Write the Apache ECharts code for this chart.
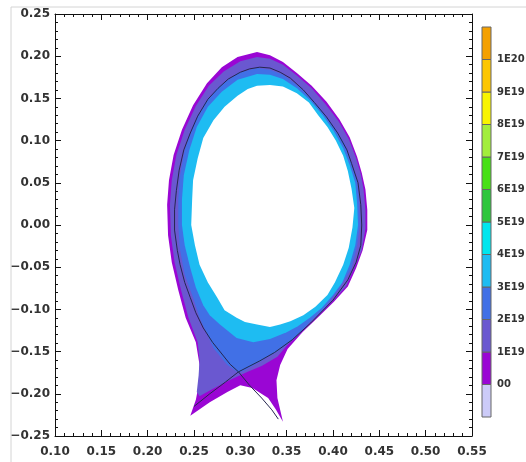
<!DOCTYPE html>
<html>
<head>
<meta charset="utf-8">
<script src="https://cdn.jsdelivr.net/npm/echarts@6/dist/echarts.min.js"></script>
<style>
html, body { margin: 0; padding: 0; background: #fff; }
#main { width: 526px; height: 462px; }
</style>
</head>
<body>
<div id="main"></div>
<script>
// colour bar levels, bottom to top
var levelLabels = ['', '00', '1E19', '2E19', '3E19', '4E19', '5E19', '6E19', '7E19', '8E19', '9E19', '1E20', ''];
var levelColors = ['#cccbf8', '#9a06d4', '#6a58d0', '#4170e6', '#1ebcf2', '#00e6ee', '#2ec63c', '#48e016', '#a2ee3c', '#f8f400', '#fdc600', '#f4a000'];

// outer edge of the density (0 - 1E19)
var purpleEdge = [
    [0.318, 0.205], [0.332, 0.201], [0.346, 0.193], [0.361, 0.180], [0.377, 0.165], [0.393, 0.146],
    [0.407, 0.125], [0.418, 0.104], [0.426, 0.081], [0.431, 0.062], [0.435, 0.042], [0.437, 0.018],
    [0.437, -0.006], [0.432, -0.030], [0.425, -0.051], [0.416, -0.073], [0.401, -0.091], [0.385, -0.108],
    [0.367, -0.127], [0.351, -0.147], [0.343, -0.166], [0.339, -0.184], [0.340, -0.205], [0.346, -0.233],
    [0.338, -0.218], [0.330, -0.205], [0.313, -0.193], [0.300, -0.190], [0.286, -0.198], [0.267, -0.210],
    [0.246, -0.226], [0.252, -0.207], [0.255, -0.190], [0.256, -0.166], [0.252, -0.139], [0.241, -0.110],
    [0.233, -0.077], [0.226, -0.044], [0.222, -0.012], [0.221, 0.024], [0.223, 0.053], [0.228, 0.083],
    [0.237, 0.113], [0.249, 0.142], [0.264, 0.168], [0.280, 0.187], [0.297, 0.199]
];
// 1E19 - 2E19
var slateEdge = [
    [0.318, 0.199], [0.332, 0.197], [0.346, 0.190], [0.361, 0.177], [0.377, 0.162], [0.392, 0.143],
    [0.406, 0.123], [0.417, 0.102], [0.425, 0.079], [0.430, 0.060], [0.433, 0.042], [0.435, 0.018],
    [0.435, -0.004], [0.431, -0.030], [0.423, -0.051], [0.414, -0.073], [0.399, -0.091], [0.382, -0.110],
    [0.364, -0.129], [0.351, -0.142], [0.340, -0.156], [0.323, -0.167], [0.308, -0.174], [0.298, -0.179],
    [0.286, -0.185], [0.267, -0.196], [0.256, -0.203], [0.253, -0.198], [0.255, -0.178], [0.256, -0.160],
    [0.254, -0.139], [0.244, -0.110], [0.236, -0.077], [0.229, -0.044], [0.225, -0.012], [0.224, 0.024],
    [0.226, 0.053], [0.231, 0.083], [0.240, 0.113], [0.252, 0.141], [0.266, 0.165], [0.282, 0.182],
    [0.300, 0.194]
];
// 2E19 - 3E19
var royalEdge = [
    [0.318, 0.186], [0.332, 0.184], [0.346, 0.178], [0.361, 0.166], [0.375, 0.152], [0.389, 0.134],
    [0.402, 0.115], [0.413, 0.095], [0.420, 0.073], [0.426, 0.053], [0.428, 0.030], [0.429, 0.000],
    [0.426, -0.024], [0.420, -0.051], [0.407, -0.075], [0.391, -0.098], [0.375, -0.115], [0.362, -0.130],
    [0.350, -0.142], [0.340, -0.150], [0.321, -0.162], [0.305, -0.172], [0.298, -0.175], [0.286, -0.166],
    [0.271, -0.146], [0.256, -0.110], [0.248, -0.083], [0.240, -0.059], [0.235, -0.030], [0.233, 0.000],
    [0.233, 0.030], [0.235, 0.059], [0.240, 0.089], [0.249, 0.118], [0.262, 0.145], [0.278, 0.165],
    [0.297, 0.180]
];
// 3E19 - 4E19
var skyEdge = [
    [0.318, 0.179], [0.332, 0.178], [0.346, 0.173], [0.361, 0.162], [0.375, 0.148], [0.389, 0.130],
    [0.401, 0.111], [0.411, 0.091], [0.418, 0.071], [0.424, 0.050], [0.426, 0.026], [0.427, 0.000],
    [0.424, -0.024], [0.418, -0.047], [0.410, -0.068], [0.400, -0.083], [0.388, -0.098], [0.375, -0.110],
    [0.362, -0.120], [0.350, -0.127], [0.332, -0.135], [0.314, -0.139], [0.296, -0.134], [0.278, -0.118],
    [0.267, -0.107], [0.260, -0.095], [0.252, -0.074], [0.246, -0.051], [0.240, -0.024], [0.237, 0.000],
    [0.237, 0.030], [0.239, 0.059], [0.245, 0.089], [0.253, 0.116], [0.265, 0.140], [0.280, 0.158],
    [0.297, 0.172]
];
// core without data
var coreEdge = [
    [0.318, 0.165], [0.332, 0.166], [0.346, 0.164], [0.361, 0.156], [0.374, 0.145], [0.384, 0.130],
    [0.394, 0.116], [0.403, 0.100], [0.411, 0.082], [0.416, 0.064], [0.420, 0.043], [0.423, 0.020],
    [0.421, -0.003], [0.417, -0.027], [0.411, -0.047], [0.402, -0.068], [0.394, -0.083], [0.381, -0.097],
    [0.368, -0.107], [0.354, -0.114], [0.343, -0.118], [0.332, -0.121], [0.318, -0.118], [0.305, -0.115],
    [0.296, -0.110], [0.283, -0.101], [0.275, -0.086], [0.265, -0.068], [0.256, -0.047], [0.251, -0.024],
    [0.247, 0.000], [0.248, 0.030], [0.249, 0.053], [0.254, 0.079], [0.260, 0.103], [0.271, 0.124],
    [0.283, 0.140], [0.297, 0.153], [0.308, 0.161]
];
// separatrix with the X-point
var separatrix = [
    [0.250, -0.215], [0.267, -0.200], [0.284, -0.186], [0.298, -0.174], [0.321, -0.161], [0.337, -0.151],
    [0.356, -0.136], [0.376, -0.116], [0.400, -0.089], [0.416, -0.065], [0.425, -0.044], [0.430, -0.024],
    [0.431, 0.000], [0.430, 0.024], [0.427, 0.050], [0.420, 0.073], [0.415, 0.089], [0.405, 0.109],
    [0.393, 0.128], [0.380, 0.145], [0.368, 0.160], [0.354, 0.174], [0.343, 0.181], [0.332, 0.186],
    [0.321, 0.187], [0.310, 0.185], [0.300, 0.181], [0.287, 0.173], [0.276, 0.162], [0.265, 0.149],
    [0.254, 0.129], [0.246, 0.109], [0.239, 0.089], [0.234, 0.065], [0.231, 0.041], [0.229, 0.018],
    [0.229, -0.006], [0.232, -0.030], [0.235, -0.047], [0.240, -0.068], [0.246, -0.086], [0.252, -0.104],
    [0.260, -0.122], [0.270, -0.139], [0.281, -0.154], [0.289, -0.165], [0.298, -0.174], [0.310, -0.190],
    [0.323, -0.205], [0.334, -0.219], [0.341, -0.230]
];

var myChart = echarts.init(document.getElementById('main'));

var labelFont = {
    fontFamily: 'DejaVu Sans',
    fontWeight: 'bold',
    fontSize: 12,
    color: '#333'
};

function fmt(v) {
    if (Math.abs(v) < 1e-9) return '0.00';
    return (v < 0 ? '\u2212' : '') + Math.abs(v).toFixed(2);
}

function frameAxis(pos, min, max, showLabel, margin) {
    return {
        type: 'value',
        gridIndex: 0,
        position: pos,
        min: min,
        max: max,
        interval: 0.05,
        axisLine: { show: true, onZero: false, lineStyle: { color: '#111', width: 1 } },
        axisTick: { show: true, inside: true, length: 6, lineStyle: { color: '#111' } },
        minorTick: { show: true, splitNumber: 5, length: 3, lineStyle: { color: '#111' } },
        splitLine: { show: false },
        axisLabel: Object.assign({ show: showLabel, margin: margin, formatter: fmt }, labelFont)
    };
}

function polySeries(pts, color) {
    return {
        type: 'custom',
        xAxisIndex: 0,
        yAxisIndex: 0,
        silent: true,
        data: [[0.3, 0]],
        renderItem: function (params, api) {
            return {
                type: 'polygon',
                shape: { points: pts.map(function (p) { return api.coord(p); }) },
                style: { fill: color }
            };
        }
    };
}

var option = {
    backgroundColor: '#fff',
    animation: false,
    graphic: [{
        type: 'rect',
        z: -10,
        shape: { x: 11, y: 7, width: 600, height: 600 },
        style: { fill: 'none', stroke: '#d4d4d4', lineWidth: 1 }
    }],
    grid: [
        { left: 55, top: 14, width: 417, height: 422, outerBoundsMode: 'none' },
        { left: 482, top: 27, width: 9, height: 390, outerBoundsMode: 'none' }
    ],
    xAxis: [
        frameAxis('bottom', 0.10, 0.55, true, 10),
        frameAxis('top', 0.10, 0.55, false, 8),
        { type: 'value', gridIndex: 1, min: 0, max: 1, show: false }
    ],
    yAxis: [
        frameAxis('left', -0.25, 0.25, true, 5),
        frameAxis('right', -0.25, 0.25, false, 8),
        {
            type: 'value', gridIndex: 1, position: 'right', min: 0, max: 12, interval: 1,
            axisLine: { show: false }, axisTick: { show: false }, splitLine: { show: false },
            axisLabel: {
                margin: 6,
                fontFamily: 'DejaVu Sans',
                fontWeight: 'bold',
                fontSize: 10,
                color: '#333',
                formatter: function (v) { return levelLabels[Math.round(v)]; }
            }
        }
    ],
    series: [
        polySeries(purpleEdge, levelColors[1]),
        polySeries(slateEdge, levelColors[2]),
        polySeries(royalEdge, levelColors[3]),
        polySeries(skyEdge, levelColors[4]),
        polySeries(coreEdge, '#ffffff'),
        {
            type: 'line',
            xAxisIndex: 0,
            yAxisIndex: 0,
            data: separatrix,
            showSymbol: false,
            symbol: 'none',
            silent: true,
            lineStyle: { color: '#262650', width: 1 },
            z: 5
        },
        {
            // colour bar
            type: 'custom',
            xAxisIndex: 2,
            yAxisIndex: 2,
            silent: true,
            data: levelColors.map(function (c, i) { return [0, i, i + 1]; }),
            renderItem: function (params, api) {
                var lo = api.coord([0, api.value(1)]);
                var hi = api.coord([1, api.value(2)]);
                return {
                    type: 'rect',
                    shape: { x: lo[0], y: hi[1], width: hi[0] - lo[0], height: lo[1] - hi[1] },
                    style: { fill: levelColors[params.dataIndex], stroke: '#666', lineWidth: 1 }
                };
            }
        }
    ]
};
myChart.setOption(option);
</script>
</body>
</html>
